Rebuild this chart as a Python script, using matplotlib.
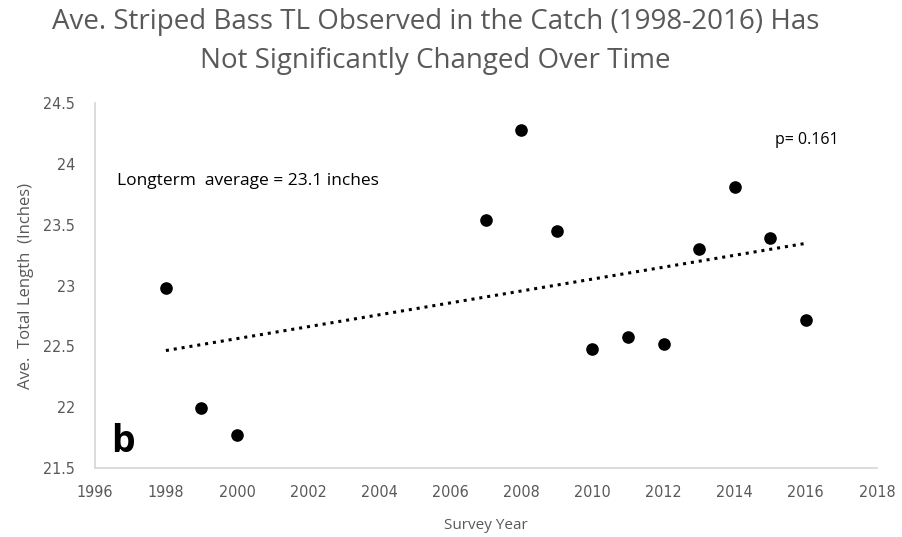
import matplotlib
matplotlib.use('Agg')
import matplotlib.pyplot as plt
import numpy as np

years = [1998, 1999, 2000, 2007, 2008, 2009, 2010, 2011, 2012, 2013, 2014, 2015, 2016]
avgLength = [22.98, 21.99, 21.77, 23.54, 24.28, 23.45, 22.48, 22.58, 22.52, 23.30, 23.81, 23.39, 22.72]
xTicks = list(range(1996, 2019, 2))
yTicks = [21.5, 22, 22.5, 23, 23.5, 24, 24.5]
yTickLabels = ['21.5', '22', '22.5', '23', '23.5', '24', '24.5']

gray = '#595959'
tickFont = ['DejaVu Sans']

fig = plt.figure(figsize=(9.03, 5.37), dpi=100)
ax = fig.add_axes([0.105, 0.1285, 0.866, 0.6795])

# linear trend (dotted)
slope, intercept = np.polyfit(years, avgLength, 1)
trendX = np.array([years[0], years[-1]])
ax.plot(trendX, slope * trendX + intercept, color='black', linestyle=(0, (1, 1.6)), linewidth=2.2)

ax.scatter(years, avgLength, s=65, color='black', zorder=3)

ax.set_xlim(1996, 2018)
ax.set_ylim(21.5, 24.5)
ax.set_xticks(xTicks)
ax.set_yticks(yTicks)
ax.set_yticklabels(yTickLabels)
for lab in ax.get_xticklabels() + ax.get_yticklabels():
    lab.set_family(tickFont)
    lab.set_stretch('condensed')
    lab.set_fontsize(11.5)
    lab.set_color(gray)
ax.tick_params(axis='y', length=0, pad=14)
ax.tick_params(axis='x', length=0, pad=12)

for side in ['top', 'right']:
    ax.spines[side].set_visible(False)
for side in ['left', 'bottom']:
    ax.spines[side].set_color('#d9d9d9')
    ax.spines[side].set_linewidth(1.3)

ax.set_xlabel('Survey Year', fontsize=11, color=gray, family=['Open Sans'], labelpad=13)
ax.set_ylabel('Ave.  Total Length  (Inches)', fontsize=12, color=gray, family=['Open Sans'], labelpad=7)

ax.text(1996.62, 23.86, 'Longterm  average = 23.1 inches', fontsize=12.5, color='black',
        family=['Open Sans', 'DejaVu Sans'], va='center', ha='left')
ax.text(2015.13, 24.2, 'p= 0.161', fontsize=11.5, color='black',
        family=['Open Sans', 'DejaVu Sans'], va='center', ha='left')
ax.text(1996.45, 21.71, 'b', fontsize=27, fontweight='bold', color='black',
        family=['Open Sans', 'DejaVu Sans'], va='center', ha='left')

fig.text(0.482, 0.923, 'Ave. Striped Bass TL Observed in the Catch (1998-2016) Has\nNot Significantly Changed Over Time',
         ha='center', va='center', fontsize=20, color=gray, family=['Open Sans', 'DejaVu Sans'],
         linespacing=1.5)

fig.savefig('out.png', dpi=100)
